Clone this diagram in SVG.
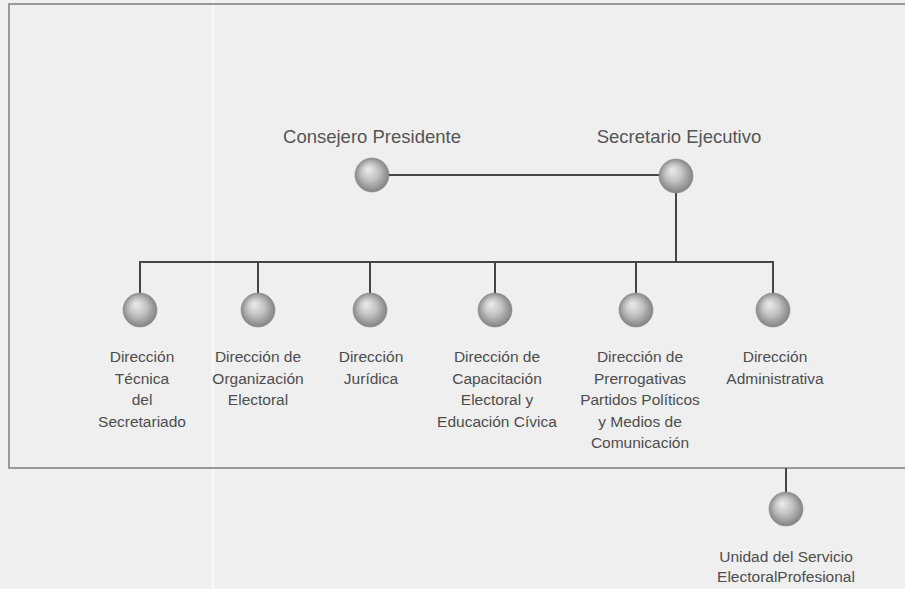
<svg xmlns="http://www.w3.org/2000/svg" width="905" height="589" viewBox="0 0 905 589">
<defs>
<radialGradient id="ball" cx="0.5" cy="0.5" r="0.55" fx="0.38" fy="0.32">
<stop offset="0" stop-color="#ededed"/>
<stop offset="0.45" stop-color="#c4c4c4"/>
<stop offset="0.85" stop-color="#8e8e8e"/>
<stop offset="1" stop-color="#777"/>
</radialGradient>
<style>
.sphere{fill:url(#ball);stroke:#8a8a8a;stroke-width:0.6}
.lbl{font-family:"Liberation Sans",Arial,sans-serif;font-size:15.5px;fill:#4d4d4d;text-anchor:middle}
.head{font-family:"Liberation Sans",Arial,sans-serif;font-size:18.5px;fill:#555;text-anchor:middle}
.conn{stroke:#454545;stroke-width:2;fill:none}
</style>
</defs>
<rect x="0" y="0" width="905" height="589" fill="#efefef"/>
<line x1="213" y1="0" x2="213" y2="589" stroke="#f8f8f8" stroke-width="3"/>
<path d="M907 4 H9 V468 H907" fill="none" stroke="#9a9a9a" stroke-width="2"/>
<g id="connectors">
<line class="conn" x1="372" y1="175" x2="676" y2="175"/>
<line class="conn" x1="676" y1="176" x2="676" y2="262"/>
<polyline class="conn" points="140,310 140,262 773,262 773,310"/>
<line class="conn" x1="258" y1="262" x2="258" y2="310"/>
<line class="conn" x1="370" y1="262" x2="370" y2="310"/>
<line class="conn" x1="495" y1="262" x2="495" y2="310"/>
<line class="conn" x1="636" y1="262" x2="636" y2="310"/>
<line class="conn" x1="786" y1="468" x2="786" y2="509"/>
</g>
<g id="consejero">
<text class="head" x="372" y="143">Consejero Presidente</text>
<circle class="sphere" cx="372" cy="175" r="17"/>
</g>
<g id="secretario">
<text class="head" x="679" y="143">Secretario Ejecutivo</text>
<circle class="sphere" cx="676" cy="176" r="17"/>
</g>
<g id="tecnica">
<circle class="sphere" cx="140" cy="310" r="17"/>
<text class="lbl" x="142" y="362">Dirección</text>
<text class="lbl" x="142" y="383.5">Técnica</text>
<text class="lbl" x="142" y="405">del</text>
<text class="lbl" x="142" y="427">Secretariado</text>
</g>
<g id="organizacion">
<circle class="sphere" cx="258" cy="310" r="17"/>
<text class="lbl" x="258" y="362">Dirección de</text>
<text class="lbl" x="258" y="383.5">Organización</text>
<text class="lbl" x="258" y="405">Electoral</text>
</g>
<g id="juridica">
<circle class="sphere" cx="370" cy="310" r="17"/>
<text class="lbl" x="371" y="362">Dirección</text>
<text class="lbl" x="371" y="383.5">Jurídica</text>
</g>
<g id="capacitacion">
<circle class="sphere" cx="495" cy="310" r="17"/>
<text class="lbl" x="497" y="362">Dirección de</text>
<text class="lbl" x="497" y="383.5">Capacitación</text>
<text class="lbl" x="497" y="405">Electoral y</text>
<text class="lbl" x="497" y="427">Educación Cívica</text>
</g>
<g id="prerrogativas">
<circle class="sphere" cx="636" cy="310" r="17"/>
<text class="lbl" x="640" y="362">Dirección de</text>
<text class="lbl" x="640" y="383.5">Prerrogativas</text>
<text class="lbl" x="640" y="405">Partidos Políticos</text>
<text class="lbl" x="640" y="427">y Medios de</text>
<text class="lbl" x="640" y="448">Comunicación</text>
</g>
<g id="administrativa">
<circle class="sphere" cx="773" cy="310" r="17"/>
<text class="lbl" x="775" y="362">Dirección</text>
<text class="lbl" x="775" y="383.5">Administrativa</text>
</g>
<g id="unidad">
<circle class="sphere" cx="786" cy="509" r="17"/>
<text class="lbl" x="786" y="562">Unidad del Servicio</text>
<text class="lbl" x="786" y="582">ElectoralProfesional</text>
</g>
</svg>
